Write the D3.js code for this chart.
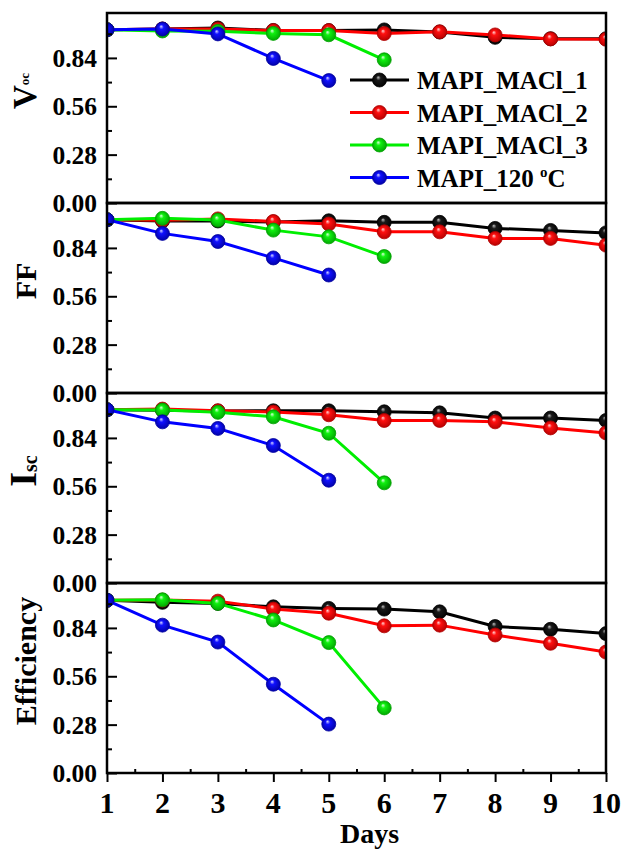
<!DOCTYPE html>
<html>
<head>
<meta charset="utf-8">
<script src="https://cdn.jsdelivr.net/npm/d3@7"></script>
<style>
  body { margin: 0; background: #fff; }
  svg text { font-family: "Liberation Serif", "Times New Roman", serif; font-weight: bold; }
</style>
</head>
<body>
<div id="chart"></div>
<script>
// days on the x axis
var days = [1, 2, 3, 4, 5, 6, 7, 8, 9, 10];
var seriesNames = ["MAPI_MACl_1", "MAPI_MACl_2", "MAPI_MACl_3", "MAPI_120 oC"];
var seriesColors = ["#000000", "#ff0000", "#00ee00", "#0000ff"];
var yTicks = [0, 0.28, 0.56, 0.84];
var yMinor = [0.14, 0.42, 0.70, 0.98];

// normalised values
var vocBlack = [1.003, 1.007, 1.013, 0.999, 0.998, 1.002, 0.99, 0.959, 0.951, 0.951];
var vocRed   = [1.003, 1.007, 1.008, 0.998, 0.998, 0.981, 0.991, 0.973, 0.95, 0.948];
var vocGreen = [1.003, 0.996, 0.994, 0.982, 0.974, 0.829];
var vocBlue  = [1.003, 1.007, 0.979, 0.837, 0.709];

var ffBlack = [1.003, 0.996, 0.996, 0.99, 0.997, 0.988, 0.988, 0.953, 0.941, 0.927];
var ffRed   = [1.003, 1.0, 1.008, 0.993, 0.978, 0.933, 0.933, 0.895, 0.895, 0.856];
var ffGreen = [1.003, 1.011, 1.001, 0.943, 0.904, 0.79];
var ffBlue  = [1.003, 0.924, 0.877, 0.782, 0.683];

var iscBlack = [1.003, 1.0, 0.996, 0.997, 0.997, 0.991, 0.985, 0.955, 0.955, 0.941];
var iscRed   = [1.003, 1.007, 0.997, 0.99, 0.974, 0.941, 0.941, 0.933, 0.898, 0.869];
var iscGreen = [1.003, 1.001, 0.988, 0.962, 0.867, 0.58];
var iscBlue  = [1.003, 0.933, 0.895, 0.796, 0.595];

var effBlack = [1.0, 0.988, 0.982, 0.962, 0.953, 0.949, 0.933, 0.848, 0.832, 0.807];
var effRed   = [1.0, 1.001, 0.995, 0.949, 0.925, 0.852, 0.856, 0.799, 0.751, 0.70];
var effGreen = [1.0, 1.003, 0.982, 0.886, 0.755, 0.377];
var effBlue  = [1.0, 0.856, 0.758, 0.514, 0.283];

var panels = [
  {label: "V", sub: "oc", series: [vocBlack, vocRed, vocGreen, vocBlue]},
  {label: "FF", sub: "", series: [ffBlack, ffRed, ffGreen, ffBlue]},
  {label: "I", sub: "sc", series: [iscBlack, iscRed, iscGreen, iscBlue]},
  {label: "Efficiency", sub: "", series: [effBlack, effRed, effGreen, effBlue]}
];

var W = 622, H = 851;
var left = 107, right = 606, top0 = 13, panelH = 190;

var svg = d3.select("#chart").append("svg")
  .attr("width", W).attr("height", H);

var defs = svg.append("defs");
var shades = [
  ["#c0c0c0", "#1a1a1a", "#000000"],
  ["#ffd8d8", "#ff1010", "#b00000"],
  ["#e0ffe0", "#10f010", "#00a000"],
  ["#d8d8ff", "#1010ff", "#0000a0"]
];
shades.forEach(function(s, i) {
  var g = defs.append("radialGradient").attr("id", "ball" + i)
    .attr("cx", "50%").attr("cy", "50%").attr("r", "55%")
    .attr("fx", "40%").attr("fy", "30%");
  g.append("stop").attr("offset", "0%").attr("stop-color", s[0]);
  g.append("stop").attr("offset", "30%").attr("stop-color", s[1]);
  g.append("stop").attr("offset", "100%").attr("stop-color", s[2]);
});

var x = d3.scaleLinear().domain([1, 10]).range([left, right]);

panels.forEach(function(p, pi) {
  var pTop = top0 + pi * panelH;
  var pBot = pTop + panelH;
  var y = d3.scaleLinear().domain([0, 1.1]).range([pBot, pTop]);

  defs.append("clipPath").attr("id", "clip" + pi)
    .append("rect").attr("x", left).attr("y", pTop)
    .attr("width", right - left).attr("height", panelH);

  var g = svg.append("g");
  var plot = g.append("g").attr("clip-path", "url(#clip" + pi + ")");

  var line = d3.line()
    .x(function(d, i) { return x(days[i]); })
    .y(function(d) { return y(d); });

  p.series.forEach(function(vals, si) {
    plot.append("path")
      .attr("d", line(vals))
      .style("fill", "none")
      .style("stroke", seriesColors[si])
      .style("stroke-width", "3px");
    plot.selectAll(".m" + si).data(vals).enter().append("circle")
      .attr("cx", function(d, i) { return x(days[i]); })
      .attr("cy", function(d) { return y(d); })
      .attr("r", 7)
      .style("fill", "url(#ball" + si + ")")
      .style("stroke", shades[si][2])
      .style("stroke-width", "0.8px");
  });

  // left axis, ticks pointing in
  var yAxis = d3.axisRight(y).tickValues(yTicks).tickSize(10).tickFormat("");
  g.append("g").attr("transform", "translate(" + left + ",0)").call(yAxis)
    .call(function(a) { a.select(".domain").remove(); })
    .selectAll("line").style("stroke-width", "2px");
  var yAxisMinor = d3.axisRight(y).tickValues(yMinor).tickSize(5).tickFormat("");
  g.append("g").attr("transform", "translate(" + left + ",0)").call(yAxisMinor)
    .call(function(a) { a.select(".domain").remove(); })
    .selectAll("line").style("stroke-width", "2px");

  g.selectAll(".ylab").data(yTicks).enter().append("text")
    .attr("x", left - 10)
    .attr("y", function(d) { return y(d); })
    .attr("dy", "0.35em")
    .attr("text-anchor", "end")
    .style("font-size", "25.5px")
    .text(function(d) { return d3.format(".2f")(d); });

  // frame
  g.append("rect")
    .attr("x", left).attr("y", pTop)
    .attr("width", right - left).attr("height", panelH)
    .style("fill", "none").style("stroke", "#000").style("stroke-width", "2.5px");

  // y title, rotated
  var cy = (pTop + pBot) / 2 - 17;
  var big = p.label == "I" ? 38 : (p.label == "V" ? 33 : 30);
  var t = g.append("text")
    .attr("transform", "translate(36," + cy + ") rotate(-90)")
    .attr("text-anchor", "middle")
    .style("font-size", big + "px");
  t.append("tspan").text(p.label);
  if (p.sub == "oc") {
    t.append("tspan").attr("dy", -7).style("font-size", "13px").text(p.sub);
  } else if (p.sub == "sc") {
    t.append("tspan").attr("dy", 1).style("font-size", "20px").text(p.sub);
  }

  if (pi == panels.length - 1) {
    var xAxis = d3.axisBottom(x).tickValues(days).tickSize(9).tickFormat("");
    g.append("g").attr("transform", "translate(0," + pBot + ")").call(xAxis)
      .call(function(a) { a.select(".domain").remove(); })
      .selectAll("line").style("stroke-width", "2px");
    var halfDays = days.slice(0, 9).map(function(d) { return d + 0.5; });
    var xAxisMinor = d3.axisTop(x).tickValues(halfDays).tickSize(4).tickFormat("");
    g.append("g").attr("transform", "translate(0," + pBot + ")").call(xAxisMinor)
      .call(function(a) { a.select(".domain").remove(); })
      .selectAll("line").style("stroke-width", "2px");
    g.selectAll(".xlab").data(days).enter().append("text")
      .attr("x", function(d) { return x(d); })
      .attr("y", pBot + 40)
      .attr("text-anchor", "middle")
      .style("font-size", "30px")
      .text(function(d) { return d; });
    g.append("text")
      .attr("x", (left + right) / 2 + 13)
      .attr("y", pBot + 70)
      .attr("text-anchor", "middle")
      .style("font-size", "28px")
      .text("Days");
  }
});

// legend in the top panel
var legend = svg.append("g");
seriesNames.forEach(function(name, i) {
  var ly = 80 + i * 32.5;
  legend.append("line")
    .attr("x1", 350).attr("x2", 409).attr("y1", ly).attr("y2", ly)
    .style("stroke", seriesColors[i]).style("stroke-width", "3px");
  legend.append("circle")
    .attr("cx", 379.5).attr("cy", ly).attr("r", 7)
    .style("fill", "url(#ball" + i + ")")
    .style("stroke", shades[i][2]).style("stroke-width", "0.8px");
  var tx = legend.append("text")
    .attr("x", 417).attr("y", ly + 9)
    .style("font-size", "25px");
  if (name.indexOf(" oC") > 0) {
    tx.append("tspan").text(name.replace(" oC", " "));
    tx.append("tspan").attr("dy", -10).style("font-size", "15px").text("o");
    tx.append("tspan").attr("dy", 10).text("C");
  } else {
    tx.text(name);
  }
});
</script>
</body>
</html>
